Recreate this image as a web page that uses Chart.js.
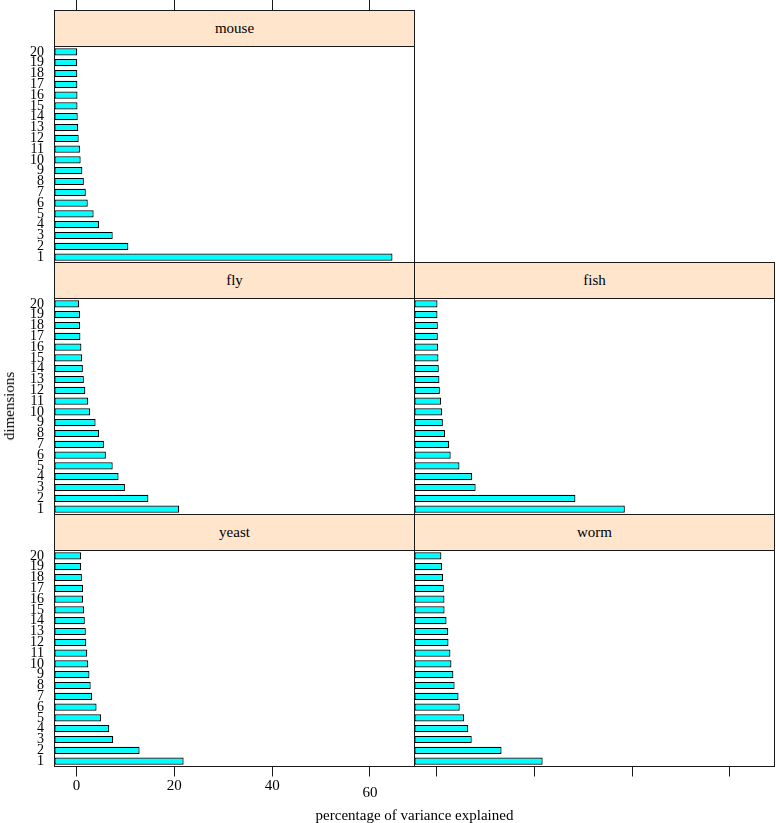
<!DOCTYPE html>
<html>
<head>
<meta charset="utf-8">
<script src="https://cdn.jsdelivr.net/npm/chart.js@4.4.1/dist/chart.umd.min.js"></script>
<style>
html,body{margin:0;padding:0;background:#fff;}
#wrap{position:relative;width:776px;height:823px;overflow:hidden;font-family:"Liberation Serif","Times New Roman",serif;color:#000;}
#wrap canvas{position:absolute;left:0;top:0;}
.strip{position:absolute;box-sizing:border-box;background:#ffe5cc;border:1px solid #1a1a1a;font-size:15px;line-height:35px;height:37px;width:361px;text-align:center;z-index:5;}
.xtitle{position:absolute;left:0;width:829px;top:806px;line-height:18px;font-size:15px;text-align:center;z-index:6;}
.ytitle{position:absolute;left:9px;top:406px;font-size:15px;line-height:18px;white-space:nowrap;transform:translate(-50%,-50%) rotate(-90deg);z-index:6;}
</style>
</head>
<body>
<div id="wrap">
  <canvas id="cMouse" width="776" height="823"></canvas>
  <canvas id="cFly" width="776" height="823"></canvas>
  <canvas id="cFish" width="776" height="823"></canvas>
  <canvas id="cYeast" width="776" height="823"></canvas>
  <canvas id="cWorm" width="776" height="823"></canvas>
  <div class="strip" style="left:54px;top:10px;">mouse</div>
  <div class="strip" style="left:54px;top:262px;">fly</div>
  <div class="strip" style="left:414px;top:262px;">fish</div>
  <div class="strip" style="left:54px;top:514px;">yeast</div>
  <div class="strip" style="left:414px;top:514px;">worm</div>
  <div class="ytitle">dimensions</div>
  <div class="xtitle">percentage of variance explained</div>
</div>
<script>
// ---- data ----
const dimensions = ['1','2','3','4','5','6','7','8','9','10','11','12','13','14','15','16','17','18','19','20'];
const xTicks = [0, 20, 40, 60];
const mouse = [64.6, 10.6, 7.4, 4.6, 3.5, 2.3, 1.9, 1.5, 1.2, 0.85, 0.7, 0.45, 0.35, 0.25, 0.2, 0.2, 0.18, 0.17, 0.15, 0.15];
const fly   = [21.0, 14.7, 9.9, 8.6, 7.4, 6.0, 5.6, 4.6, 3.9, 2.8, 2.4, 1.8, 1.5, 1.3, 1.15, 1.0, 0.8, 0.75, 0.72, 0.55];
const fish  = [38.5, 28.4, 8.0, 7.3, 4.7, 2.9, 2.6, 1.75, 1.3, 1.15, 0.95, 0.68, 0.6, 0.47, 0.4, 0.34, 0.27, 0.27, 0.2, 0.2];
const yeast = [21.9, 12.9, 7.5, 6.7, 5.0, 4.1, 3.2, 2.9, 2.65, 2.4, 2.2, 2.0, 1.9, 1.7, 1.55, 1.35, 1.35, 1.1, 0.95, 0.95];
const worm  = [21.7, 13.3, 7.2, 6.5, 5.65, 4.75, 4.5, 3.7, 3.45, 3.05, 2.85, 2.45, 2.4, 2.05, 1.65, 1.63, 1.5, 1.35, 1.15, 1.0];

// ---- layout ----
const W = 776, H = 823;
const X_MIN = -4.5, X_MAX = 69.1;
const FONT = 'Liberation Serif';
const Y_AXIS_W = 50;

const framePlugin = {
  id: 'frame',
  afterDraw(chart) {
    const a = chart.chartArea, ctx = chart.ctx;
    ctx.save();
    ctx.strokeStyle = '#1a1a1a';
    ctx.lineWidth = 1;
    ctx.strokeRect(a.left, a.top, a.right - a.left, a.bottom - a.top);
    ctx.restore();
  }
};

function makePanel(id, values, box, showY, xMode) {
  const pad = { left: 0, right: W - box.right, top: 0, bottom: 0 };
  pad.left = showY ? box.left - Y_AXIS_W : box.left;
  let xHeight = 0;
  const xScale = {
    type: 'linear',
    min: X_MIN, max: X_MAX,
    display: xMode !== 'none',
    afterBuildTicks: (axis) => { axis.ticks = xTicks.map(v => ({ value: v })); },
    border: { display: false },
    grid: { drawOnChartArea: false, drawTicks: true, color: '#1a1a1a', lineWidth: 1, tickLength: 10 },
    ticks: { display: false, color: '#000', padding: 1, maxRotation: 0, autoSkip: false,
      font: (c) => ({ family: FONT, size: 15, lineHeight: (c.tick && c.tick.value === 60) ? 2.05 : 1.2 }) }
  };
  if (xMode === 'top') {
    xScale.position = 'top';
    xHeight = box.top;
    xScale.grid.tickLength = box.top;
    pad.top = 0;
    pad.bottom = H - box.bottom;
  } else if (xMode === 'bottomLabels') {
    xScale.position = 'bottom';
    xHeight = 40;
    xScale.ticks.display = true;
    pad.top = box.top;
    pad.bottom = H - box.bottom - xHeight;
  } else if (xMode === 'bottomTicks') {
    xScale.position = 'bottom';
    xHeight = 10;
    pad.top = box.top;
    pad.bottom = H - box.bottom - xHeight;
  } else {
    pad.top = box.top;
    pad.bottom = H - box.bottom;
  }
  xScale.afterFit = (s) => { s.height = xHeight; };

  const yScale = {
    type: 'category',
    reverse: true,
    display: showY,
    offset: true,
    border: { display: false },
    grid: { display: false, drawTicks: false },
    ticks: { color: '#000', padding: 10.5, autoSkip: false, font: { family: FONT, size: 14, lineHeight: 1 } },
    afterFit: (s) => { s.width = showY ? Y_AXIS_W : 0; }
  };

  return new Chart(document.getElementById(id), {
    type: 'bar',
    data: {
      labels: dimensions,
      datasets: [{
        data: values,
        base: X_MIN,
        backgroundColor: '#00FFFF',
        borderColor: '#000000',
        borderWidth: 1.2,
        borderSkipped: false,
        barPercentage: 2 / 3,
        categoryPercentage: 1
      }]
    },
    options: {
      indexAxis: 'y',
      responsive: false,
      animation: false,
      devicePixelRatio: 1,
      layout: { padding: pad },
      plugins: { legend: { display: false }, tooltip: { enabled: false }, title: { display: false } },
      scales: { x: xScale, y: yScale }
    },
    plugins: [framePlugin]
  });
}

const L = { left: 54.5, right: 414.5 };
const R = { left: 414.5, right: 774.5 };
const rows = [ { top: 46.5, bottom: 262.5 }, { top: 298.5, bottom: 514.5 }, { top: 550.5, bottom: 766.5 } ];

makePanel('cMouse', mouse, { ...L, ...rows[0] }, true, 'top');
makePanel('cFly',   fly,   { ...L, ...rows[1] }, true, 'none');
makePanel('cFish',  fish,  { ...R, ...rows[1] }, false, 'none');
makePanel('cYeast', yeast, { ...L, ...rows[2] }, true, 'bottomLabels');
makePanel('cWorm',  worm,  { ...R, ...rows[2] }, false, 'bottomTicks');
</script>
</body>
</html>
